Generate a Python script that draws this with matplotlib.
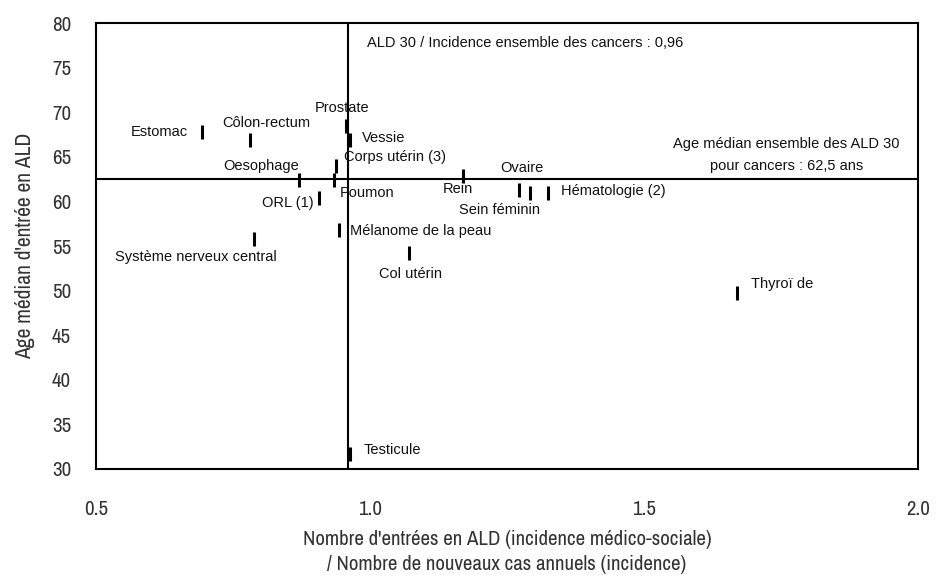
import matplotlib.pyplot as plt
from matplotlib import font_manager

plt.rcParams['font.family'] = ['Liberation Sans', 'DejaVu Sans']

# cancer sites: ratio ALD/incidence and median age at entry
sites = ['Estomac', 'Côlon-rectum', 'Oesophage', 'Corps utérin (3)', 'Poumon',
         'ORL (1)', 'Prostate', 'Vessie', 'Mélanome de la peau',
         'Système nerveux central', 'Rein', 'Ovaire', 'Sein féminin',
         'Hématologie (2)', 'Col utérin', 'Thyroï de', 'Testicule']
ratio = [0.693, 0.781, 0.870, 0.938, 0.934, 0.907, 0.956, 0.963, 0.943,
         0.788, 1.170, 1.272, 1.292, 1.325, 1.071, 1.670, 0.963]
age = [67.8, 66.9, 62.4, 64.0, 62.4, 60.4, 68.5, 66.9, 56.8,
       55.8, 62.9, 61.3, 60.9, 60.9, 54.2, 49.7, 31.7]

ref_ratio = 0.96
ref_age = 62.5

# label offsets in points (dx, dy, ha)
offsets = [(-10, 0, 'right'), (12, 12, 'center'), (0, 10, 'right'),
           (6, 6, 'left'), (4, -9, 'left'), (-4, -4, 'right'),
           (-3, 13, 'center'), (9, 1, 'left'), (8, -1, 'left'),
           (-42, -13, 'center'), (-4, -10, 'center'), (2, 16, 'center'),
           (-22, -12, 'center'), (9, 2, 'left'), (1, -15, 'center'),
           (10, 7, 'left'), (10, 3, 'left')]

# look for a narrow font for the axis texts
narrow_name = None
for f in font_manager.fontManager.ttflist:
    if 'Narrow' in f.name or 'Condensed' in f.name:
        narrow_name = f.name
        break
if narrow_name:
    narrow = dict(family=[narrow_name, 'DejaVu Sans'])
else:
    narrow = dict(family=['DejaVu Sans'], stretch='condensed')

fig = plt.figure(figsize=(9.36, 5.8), dpi=100)
ax = fig.add_axes([0.1026, 0.1914, 0.8782, 0.7689])

ax.plot(ratio, age, linestyle='none', marker='|', color='black',
        markersize=10, markeredgewidth=2.2)
ax.axvline(ref_ratio, color='black', linewidth=1.5)
ax.axhline(ref_age, color='black', linewidth=1.5)

for name, x, y, (dx, dy, ha) in zip(sites, ratio, age, offsets):
    ax.annotate(name, (x, y), xytext=(dx, dy), textcoords='offset points',
                ha=ha, va='center', fontsize=10.5, color='#111111')

ax.text(0.994, 77.75, 'ALD 30 / Incidence ensemble des cancers : 0,96',
        fontsize=10.5, ha='left', va='center', color='#111111')
ax.text(1.76, 66.4, 'Age médian ensemble des ALD 30', fontsize=10.5,
        ha='center', va='center', color='#111111')
ax.text(1.76, 63.95, 'pour cancers : 62,5 ans', fontsize=10.5,
        ha='center', va='center', color='#111111')

ax.set_xlim(0.5, 2.0)
ax.set_ylim(30, 80)
ax.set_xticks([0.5, 1.0, 1.5, 2.0])
ax.set_xticklabels(['0.5', '1.0', '1.5', '2.0'])
ax.set_yticks(range(30, 81, 5))

for lab in ax.get_xticklabels() + ax.get_yticklabels():
    lab.set(**narrow)
    lab.set_fontsize(15)
    lab.set_color('#333333')
ax.tick_params(axis='both', length=0)
ax.tick_params(axis='x', pad=22)
ax.tick_params(axis='y', pad=18)

for s in ax.spines.values():
    s.set_linewidth(1.5)

ax.set_xlabel("Nombre d'entrées en ALD (incidence médico-sociale)\n"
              "/ Nombre de nouveaux cas annuels (incidence)",
              fontsize=15, color='#333333', linespacing=1.45,
              labelpad=8, **narrow)
ax.set_ylabel("Age médian d'entrée en ALD", fontsize=15.5,
              color='#333333', labelpad=12, **narrow)

plt.savefig('out.png', dpi=100)
